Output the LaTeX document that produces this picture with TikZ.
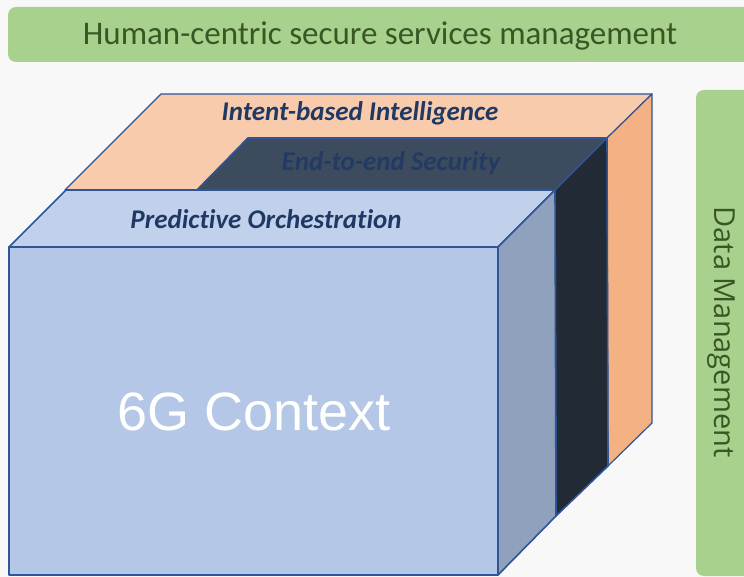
\documentclass[tikz,border=0pt]{standalone}
\usepackage{fontspec}
\setmainfont{Carlito}[Ligatures=NoCommon]
\newfontfamily\arialfont{Liberation Sans}
\newfontfamily\opensansfont{Open Sans}
\definecolor{bg}{HTML}{F8F8F8}
\definecolor{bargreen}{HTML}{A9D18E}
\definecolor{bartext}{HTML}{385723}
\definecolor{edge}{HTML}{2F5597}
\definecolor{blfront}{HTML}{B4C7E7}
\definecolor{bltop}{HTML}{C1D1EC}
\definecolor{blside}{HTML}{8FA1BC}
\definecolor{dktop}{HTML}{3D4B5F}
\definecolor{dkside}{HTML}{222A35}
\definecolor{ortop}{HTML}{F8CBAD}
\definecolor{orside}{HTML}{F4B183}
\definecolor{navy}{HTML}{1F3864}
\tikzset{
  face/.style={draw=edge, line width=1.6pt, line join=round},
  layerlabel/.style={font=\bfseries\itshape\fontsize{27}{30}\selectfont, text=navy, inner sep=0pt},
  bartitle/.style={font=\fontsize{33}{36}\selectfont, text=bartext, inner sep=0pt},
}
\begin{document}
\begin{tikzpicture}[x=1pt,y=-1pt]
\useasboundingbox (0,0) rectangle (744,577);
\fill[bg] (0,0) rectangle (744,577);
\begin{scope}
\clip (0,0) rectangle (744,577);
% banners
\fill[bargreen, rounded corners=8pt] (8,7) rectangle (760,62);
\fill[bargreen, rounded corners=8pt] (696,90) rectangle (760,576);
% orange layer
\filldraw[face, fill=ortop, line width=1.2pt] (161,94) -- (652,94) -- (607,138) -- (248,138) -- (197,190) -- (65,190) -- cycle;
\filldraw[face, fill=orside, line width=1.2pt] (607,138) -- (652,94) -- (652,423) -- (608,466) -- cycle;
% dark layer
\filldraw[face, fill=dktop] (248,138) -- (607,138) -- (555,190) -- (197,190) -- cycle;
\filldraw[face, fill=dkside] (555,190) -- (607,138) -- (608,466) -- (556,516) -- cycle;
% blue layer
\filldraw[face, fill=bltop] (66,190) -- (555,190) -- (498,247) -- (9,247) -- cycle;
\filldraw[face, fill=blside] (498,247) -- (555,190) -- (556,516) -- (498,575) -- cycle;
\filldraw[face, fill=blfront] (9,247) -- (498,247) -- (498,575) -- (9,575) -- cycle;
\end{scope}
\node[bartitle] (top) at (380,36) {Human-centric secure services management};
\node[bartitle, rotate=-90, font=\opensansfont\fontsize{29}{32}\selectfont] (data) at (721,332) {Data Management};
\node[layerlabel] (intent) at (360,113) {Intent-based Intelligence};
\node[layerlabel, text=navy!85!dktop] (sec) at (391,163) {End-to-end Security};
\node[layerlabel] (pred) at (266,219) {Predictive Orchestration};
\node[font=\arialfont\fontsize{54}{60}\selectfont, text=white, inner sep=0pt] (ctx) at (254,412) {6G Context};
\end{tikzpicture}
\end{document}
